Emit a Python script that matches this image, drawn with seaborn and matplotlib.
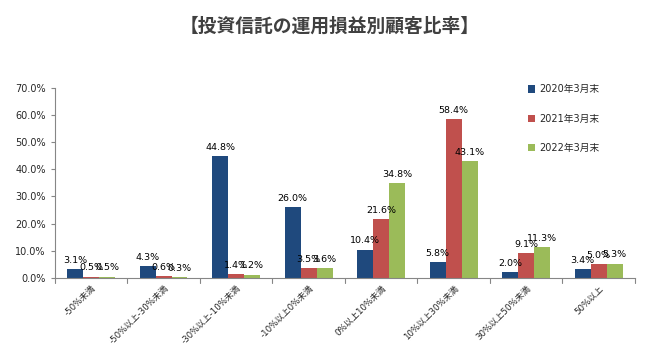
import matplotlib
matplotlib.use("Agg")
import matplotlib.pyplot as plt
import seaborn as sns
import pandas as pd
from matplotlib.ticker import FuncFormatter

categories = ["-50%未満", "-50%以上-30%未満", "-30%以上-10%未満", "-10%以上0%未満",
              "0%以上10%未満", "10%以上30%未満", "30%以上50%未満", "50%以上"]
series = ["2020年3月末", "2021年3月末", "2022年3月末"]
v2020 = [3.1, 4.3, 44.8, 26.0, 10.4, 5.8, 2.0, 3.4]
v2021 = [0.5, 0.6, 1.4, 3.5, 21.6, 58.4, 9.1, 5.0]
v2022 = [0.5, 0.3, 1.2, 3.6, 34.8, 43.1, 11.3, 5.3]
colors = ["#1F497D", "#C0504D", "#9BBB59"]

rows = []
for s, vals in zip(series, [v2020, v2021, v2022]):
    for c, v in zip(categories, vals):
        rows.append({"cat": c, "series": s, "val": v})
df = pd.DataFrame(rows)

sns.set_theme(style="white")
plt.rcParams["font.family"] = ["DejaVu Sans", "Noto Sans CJK JP"]

fig = plt.figure(figsize=(6.6, 3.5), dpi=100)
ax = fig.add_axes([0.083, 0.206, 0.879, 0.543])
sns.barplot(data=df, x="cat", y="val", hue="series", palette=colors,
            order=categories, hue_order=series, width=0.66, saturation=1,
            linewidth=0, ax=ax, legend=True)

for cont in ax.containers:
    ax.bar_label(cont, labels=[f"{b.get_height():.1f}%" for b in cont],
                 fontsize=6.8, padding=3, color="#000000")

ax.set_ylim(0, 70)
ax.set_xlim(-0.5, len(categories) - 0.5)
ax.set_yticks(range(0, 71, 10))
ax.yaxis.set_major_formatter(FuncFormatter(lambda v, p: f"{v:.1f}%"))
ax.set_xlabel("")
ax.set_ylabel("")
ax.set_xticks(range(len(categories)))
ax.set_xticklabels(categories, rotation=45, ha="right", rotation_mode="anchor", fontsize=6.2)
ax.tick_params(axis="x", length=0, pad=4)
ax.tick_params(axis="y", labelsize=7, length=3, color="#868686", left=True, width=0.8)
for b in [i + 0.5 for i in range(-1, len(categories))]:
    ax.plot([b, b], [0, -0.025], transform=ax.get_xaxis_transform(), color="#868686",
            lw=0.8, clip_on=False)
for s in ["top", "right"]:
    ax.spines[s].set_visible(False)
for s in ["left", "bottom"]:
    ax.spines[s].set_color("#868686")
    ax.spines[s].set_linewidth(0.8)

ax.legend(loc="upper left", bbox_to_anchor=(0.8, 1.065), frameon=False, fontsize=7,
          handlelength=0.8, handleheight=0.8, labelspacing=2.0, handletextpad=0.4)

fig.text(0.5, 0.925, "【投資信託の運用損益別顧客比率】", ha="center", va="center",
         fontsize=13.5, fontweight="bold", color="#404040",
         family=["Noto Sans CJK JP", "DejaVu Sans"])

fig.savefig("out.png", dpi=100)
